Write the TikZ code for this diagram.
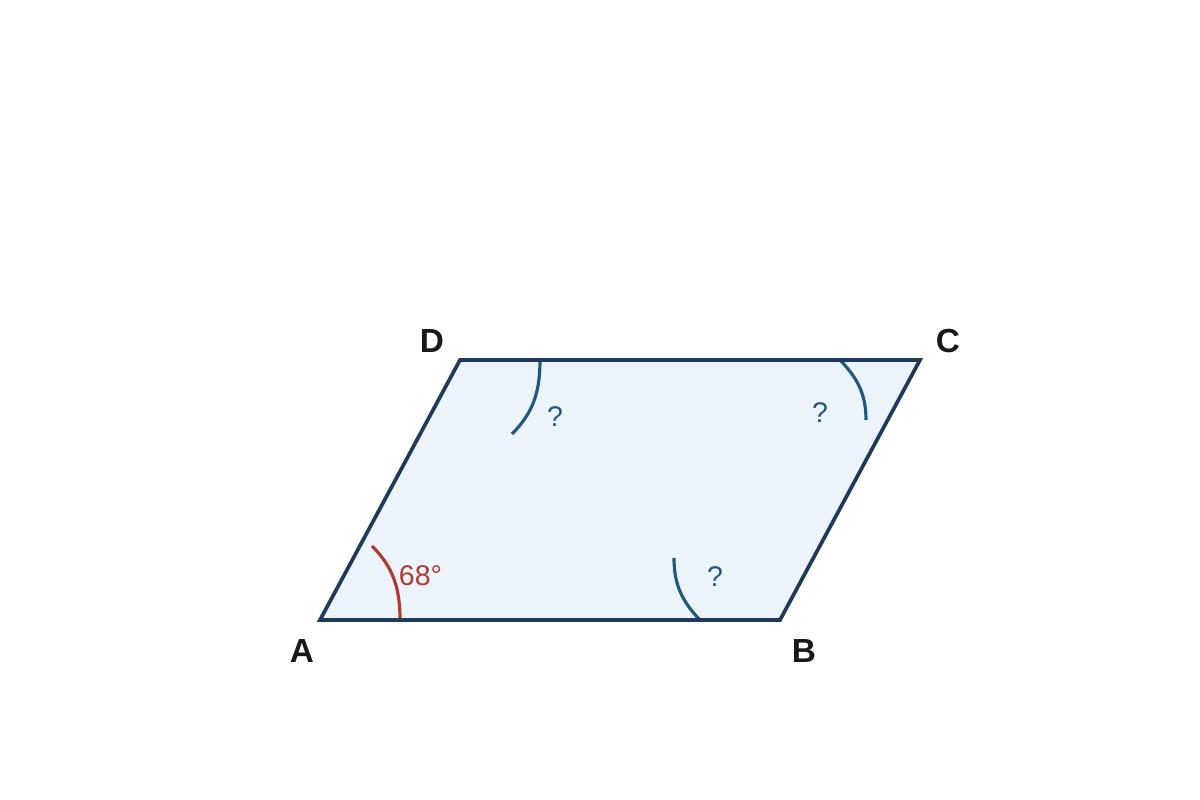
\documentclass[tikz,border=0pt]{standalone}
\usepackage{fontspec}
\setmainfont{Liberation Sans}
\usetikzlibrary{positioning}
\definecolor{edgeblue}{HTML}{1E3A5C}
\definecolor{fillblue}{HTML}{ECF3FB}
\definecolor{arcblue}{HTML}{1F5A7E}
\definecolor{arcred}{HTML}{B03A30}
\tikzset{%
  % Specifications for style of nodes:
      vertex/.style = {font=\fontsize{9.5}{11}\selectfont\bfseries, text=black!90},
    anglelbl/.style = {font=\fontsize{8.1}{9}\selectfont, text=arcblue},
      redlbl/.style = {anglelbl, text=arcred},
     bluearc/.style = {draw=arcblue, line width=0.9pt},
      redarc/.style = {draw=arcred, line width=0.9pt},
}
\begin{document}
\begin{tikzpicture}
  \useasboundingbox (0,0) rectangle (12,8);
  % Specification of corners
  \coordinate (A) at (3.2,1.8);
  \coordinate (B) at (7.8,1.8);
  \coordinate (C) at (9.2,4.4);
  \coordinate (D) at (4.6,4.4);

  \fill[fillblue] (A) -- (B) -- (C) -- (D) -- cycle;

  % angle marks
  \draw[redarc]  (4.0,1.8) to[out=90, in=-45] (3.72,2.54);
  \draw[bluearc] (5.4,4.4) to[out=-90, in=45] (5.12,3.66);
  \draw[bluearc] (7.0,1.8) to[out=134, in=-90] (6.74,2.42);
  \draw[bluearc] (8.4,4.4) to[out=-46, in=90] (8.66,3.8);

  \draw[edgeblue, line width=1.05pt, line join=miter] (A) -- (B) -- (C) -- (D) -- cycle;

  % labels
  \node (lblA) [vertex] at (3.02,1.49) {A};
  \node (lblB) [vertex] at (8.04,1.49) {B};
  \node (lblC) [vertex] at (9.48,4.59) {C};
  \node (lblD) [vertex] at (4.32,4.59) {D};

  \node (angA) [redlbl] at (4.205,2.24) {68°};
  \node (angD) [anglelbl] at (5.55,3.83) {?};
  \node (angB) [anglelbl] at (7.15,2.23) {?};
  \node (angC) [anglelbl] at (8.20,3.87) {?};
\end{tikzpicture}
\end{document}
